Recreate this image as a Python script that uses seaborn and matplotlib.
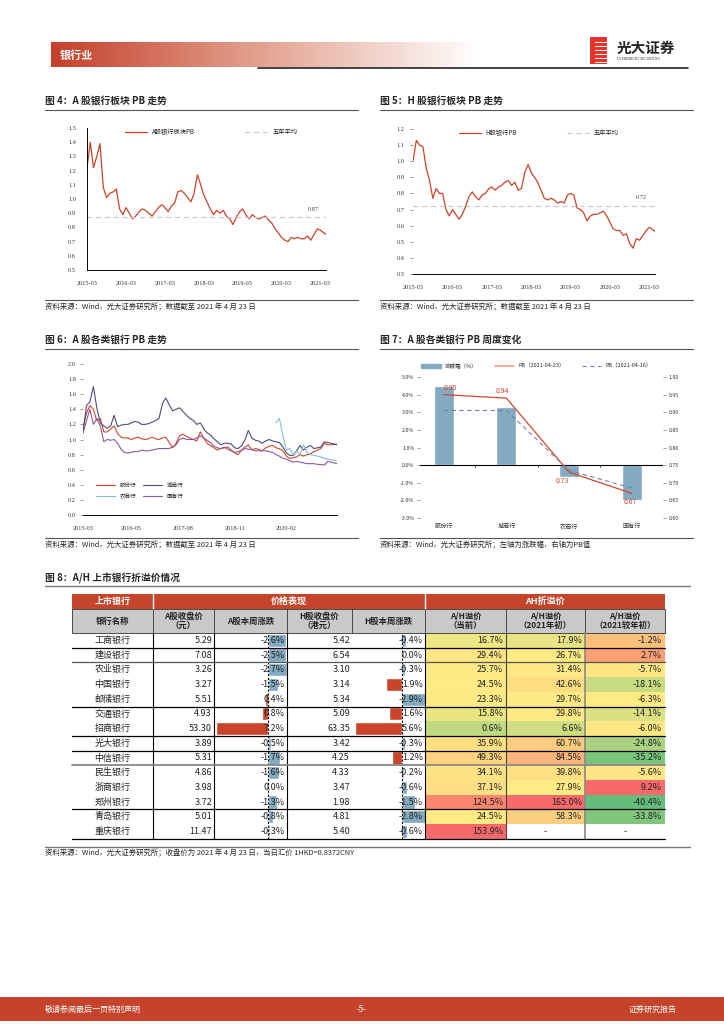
import numpy as np
import pandas as pd
import matplotlib
matplotlib.use('Agg')
import matplotlib.pyplot as plt
import matplotlib.colors as mcolors
import matplotlib.patches as mpatches
from matplotlib.lines import Line2D
from matplotlib.ticker import FormatStrFormatter
import seaborn as sns

W, H = 724, 1024

# ---------------- data ----------------
# monthly readings, last point = 2021-04-23
dates = list(pd.date_range('2015-03-01', '2021-03-01', freq='MS')) + [pd.Timestamp('2021-04-23')]

a_bank_pb = [1.22, 1.40, 1.22, 1.30, 1.39, 1.08, 1.01, 1.04, 1.05, 1.07,
             0.93, 0.89, 0.94, 0.90, 0.86, 0.88, 0.91, 0.93, 0.92, 0.90,
             0.88, 0.91, 0.94, 0.96, 0.94, 0.91, 0.95, 0.97, 1.05, 1.06,
             1.04, 1.01, 0.98, 1.04, 1.17, 1.10, 1.03, 0.98, 0.93, 0.89,
             0.92, 0.90, 0.92, 0.88, 0.86, 0.82, 0.87, 0.91, 0.93, 0.89,
             0.86, 0.89, 0.87, 0.86, 0.87, 0.88, 0.85, 0.83, 0.79, 0.76,
             0.73, 0.71, 0.70, 0.73, 0.72, 0.73, 0.72, 0.72, 0.74, 0.71,
             0.75, 0.79, 0.78, 0.75]
a_bank_avg = 0.87

h_bank_pb = [1.00, 1.13, 1.10, 1.09, 0.96, 0.88, 0.77, 0.83, 0.80, 0.80,
             0.70, 0.66, 0.70, 0.67, 0.64, 0.67, 0.72, 0.78, 0.81, 0.78,
             0.76, 0.79, 0.80, 0.83, 0.84, 0.82, 0.84, 0.85, 0.87, 0.88,
             0.85, 0.87, 0.82, 0.83, 0.93, 0.98, 0.93, 0.90, 0.87, 0.82,
             0.77, 0.76, 0.77, 0.76, 0.74, 0.75, 0.74, 0.79, 0.80, 0.79,
             0.71, 0.70, 0.68, 0.63, 0.66, 0.67, 0.67, 0.68, 0.69, 0.66,
             0.62, 0.58, 0.57, 0.57, 0.54, 0.55, 0.49, 0.46, 0.52, 0.51,
             0.54, 0.57, 0.59, 0.565]
h_bank_avg = 0.72

joint_pb = [1.15, 1.35, 1.45, 1.40, 1.25, 1.28, 1.10, 1.10, 1.14, 1.18,
            1.08, 1.03, 1.02, 1.02, 1.00, 1.02, 1.03, 1.01, 1.00, 1.01,
            1.03, 1.01, 1.00, 1.02, 1.03, 0.96, 0.89, 0.95, 1.05, 1.07,
            1.04, 1.02, 1.00, 0.98, 1.10, 1.02, 0.95, 0.92, 0.89, 0.86,
            0.88, 0.89, 0.90, 0.86, 0.82, 0.80, 0.86, 0.90, 0.93, 0.86,
            0.88, 0.87, 0.85, 0.89, 0.91, 0.92, 0.89, 0.88, 0.85, 0.78,
            0.75, 0.76, 0.77, 0.80, 0.78, 0.80, 0.81, 0.84, 0.86, 0.88,
            0.95, 0.93, 0.93, 0.94]
city_pb = [1.10, 1.45, 1.50, 1.70, 1.42, 1.22, 1.18, 1.15, 1.18, 1.32,
           1.17, 1.19, 1.20, 1.20, 1.22, 1.24, 1.23, 1.20, 1.20, 1.21,
           1.23, 1.25, 1.28, 1.48, 1.55, 1.46, 1.38, 1.40, 1.42, 1.37,
           1.32, 1.28, 1.25, 1.20, 1.22, 1.14, 1.09, 1.06, 1.01, 0.97,
           0.93, 0.95, 0.95, 0.94, 0.89, 0.88, 0.92, 1.00, 1.12, 1.02,
           0.99, 0.98, 0.95, 0.98, 1.00, 0.98, 0.97, 0.96, 0.90, 0.82,
           0.79, 0.79, 0.85, 0.92, 0.86, 0.90, 0.92, 0.88, 0.89, 0.90,
           0.97, 0.96, 0.95, 0.93]
rural_pb = [1.22, 1.28, 1.05, 0.86, 0.88, 0.80, 0.84, 0.80, 0.93, 0.83,
            0.80, 0.79, 0.78, 0.77, 0.75, 0.74, 0.73, 0.72]  # from 2019-11
state_pb = [1.08, 1.25, 1.40, 1.20, 1.28, 1.18, 0.97, 1.00, 0.99, 1.00,
            0.95, 0.87, 0.83, 0.82, 0.83, 0.84, 0.84, 0.86, 0.85, 0.85,
            0.86, 0.87, 0.88, 0.88, 0.88, 0.88, 0.90, 0.93, 1.00, 1.02,
            1.00, 1.00, 1.00, 1.02, 1.05, 1.02, 0.99, 0.96, 0.91, 0.89,
            0.88, 0.90, 0.87, 0.85, 0.83, 0.84, 0.86, 0.88, 0.87, 0.87,
            0.85, 0.85, 0.85, 0.85, 0.84, 0.83, 0.80, 0.78, 0.75, 0.74,
            0.72, 0.70, 0.71, 0.70, 0.69, 0.68, 0.68, 0.68, 0.67, 0.67,
            0.66, 0.71, 0.70, 0.68]
fig6_ticks = ['2015-03', '2016-05', '2017-08', '2018-11', '2020-02']

cats7 = ['股份行', '城商行', '农商行', '国有行']
chg7 = [4.5, 3.3, -0.7, -2.0]
pb_now7 = [0.95, 0.94, 0.73, 0.67]
pb_prev7 = [0.905, 0.905, 0.735, 0.685]

banks = ['工商银行', '建设银行', '农业银行', '中国银行', '邮储银行', '交通银行', '招商银行',
         '光大银行', '中信银行', '民生银行', '浙商银行', '郑州银行', '青岛银行', '重庆银行']
a_close = [5.29, 7.08, 3.26, 3.27, 5.51, 4.93, 53.30, 3.89, 5.31, 4.86, 3.98, 3.72, 5.01, 11.47]
a_chg = [-2.6, -2.5, -2.7, -1.5, 0.4, 0.8, 7.2, -0.5, -1.7, -1.6, 0.0, -1.3, -0.8, -0.3]
h_close = [5.42, 6.54, 3.10, 3.14, 5.34, 5.09, 63.35, 3.42, 4.25, 4.33, 3.47, 1.98, 4.81, 5.40]
h_chg = [-0.4, 0.0, -0.3, 1.9, -2.9, 1.6, 5.6, -0.3, 1.2, -0.2, -0.6, -1.5, -2.8, -0.6]
ah_now = [16.7, 29.4, 25.7, 24.5, 23.3, 15.8, 0.6, 35.9, 49.3, 34.1, 37.1, 124.5, 24.5, 153.9]
ah_start = [17.9, 26.7, 31.4, 42.6, 29.7, 29.8, 6.6, 60.7, 84.5, 39.8, 27.9, 165.0, 58.3, np.nan]
ah_diff = [-1.2, 2.7, -5.7, -18.1, -6.3, -14.1, -6.0, -24.8, -35.2, -5.6, 9.2, -40.4, -33.8, np.nan]

# ---------------- style ----------------
sns.set_theme(style='white')
plt.rcParams['font.family'] = ['Noto Sans CJK SC', 'DejaVu Sans']
plt.rcParams['axes.unicode_minus'] = False

RED = '#C8452B'
BLUE = '#82AAC0'
SERIF = 'Liberation Serif'

fig = plt.figure(figsize=(W / 100, H / 100), dpi=100)
fig.patch.set_facecolor('white')


def rect(x0, y0, x1, y1):
    return [x0 / W, 1 - y1 / H, (x1 - x0) / W, (y1 - y0) / H]


def ftext(x, y, s, **kw):
    kw.setdefault('va', 'center')
    fig.text(x / W, 1 - y / H, s, **kw)


def hline(x0, x1, y, color='#555555', lw=0.8):
    fig.add_artist(Line2D([x0 / W, x1 / W], [1 - y / H, 1 - y / H], color=color, lw=lw))


def section(x0, x1, y_title, y_src, title, src):
    ftext(x0, y_title, title, fontsize=7, fontweight='bold')
    hline(x0, x1, y_title + 9)
    hline(x0, x1, y_src)
    ftext(x0, y_src + 7, src, fontsize=5.3)


# ---------------- header / footer ----------------
axg = fig.add_axes(rect(51, 42, 480, 67))
grad_cmap = mcolors.LinearSegmentedColormap.from_list('g', ['#C4402A', '#E4A493', '#FFFFFF'])
axg.imshow(np.linspace(0, 1, 256).reshape(1, -1), aspect='auto', cmap=grad_cmap)
axg.axis('off')
ftext(60, 55, '银行业', fontsize=8, fontweight='bold', color='white')
hline(258, 688, 68, color='#222222', lw=1.2)

fig.add_artist(mpatches.Rectangle((590 / W, 1 - 64 / H), 17 / W, 27 / H, color='#E2342A', lw=0))
for yy in [42, 46, 50, 54, 58, 62]:
    hline(595, 607, yy, color='white', lw=0.7)
ftext(617, 48, '光大证券', fontsize=10.5, fontweight='bold', color='#222222')
ftext(617, 59, 'EVERBRIGHT SECURITIES', fontsize=2.6, color='#333333', family=SERIF)

fig.add_artist(mpatches.Rectangle((0, 3 / H), 1, 24 / H, color='#C5432A', lw=0))
ftext(45, 1009, '敬请参阅最后一页特别声明', fontsize=5.8, color='white')
ftext(362, 1009, '-5-', fontsize=5.8, color='white', ha='center')
ftext(677, 1009, '证券研究报告', fontsize=5.8, color='white', ha='right')

SRC = '资料来源：Wind，光大证券研究所；数据截至 2021 年 4 月 23 日'
section(45, 358, 101, 300, '图 4：A 股银行板块 PB 走势', SRC)
section(380, 693, 101, 300, '图 5：H 股银行板块 PB 走势', SRC)
section(45, 358, 340, 538, '图 6：A 股各类银行 PB 走势', SRC)
section(380, 693, 340, 538, '图 7：A 股各类银行 PB 周度变化',
        '资料来源：Wind，光大证券研究所；左轴为涨跌幅，右轴为PB值')

yr_ticks = pd.date_range('2015-03-01', '2021-03-01', freq='12MS')


def pb_panel(box, values, avg, label, left_spine):
    ax = fig.add_axes(rect(*box))
    sns.lineplot(x=dates, y=values, ax=ax, color=RED, lw=0.9, label=label)
    ax.axhline(avg, color='#C9C9C9', lw=0.9, ls=(0, (4, 3)), label='五年平均')
    ax.text(pd.Timestamp('2020-12-20'), avg + 0.045, f'{avg:.2f}', fontsize=4.5,
            ha='center', family=SERIF, color='#444444')
    ax.set_xlim(dates[0], dates[-1])
    ax.set_xticks(yr_ticks)
    ax.set_xticklabels([d.strftime('%Y-%m') for d in yr_ticks])
    ax.yaxis.set_major_formatter(FormatStrFormatter('%.1f'))
    ax.set_xlabel('')
    ax.set_ylabel('')
    for s in ['top', 'right']:
        ax.spines[s].set_visible(False)
    ax.spines['bottom'].set_color('black')
    ax.spines['bottom'].set_linewidth(0.7)
    if left_spine:
        ax.spines['left'].set_color('black')
        ax.spines['left'].set_linewidth(0.7)
        ax.tick_params(axis='y', pad=2)
    else:
        ax.spines['left'].set_visible(False)
        ax.tick_params(axis='y', left=True, length=2, width=0.5, color='#777777', pad=4)
    ax.tick_params(labelsize=4.5, labelfontfamily=SERIF, labelcolor='#333333')
    ax.tick_params(axis='x', pad=2)
    ax.legend(loc='upper center', bbox_to_anchor=(0.52, 1.04), ncol=2, frameon=False,
              fontsize=4.5, handlelength=3.5, columnspacing=8)
    return ax


ax4 = pb_panel((87, 128, 326, 270), a_bank_pb, a_bank_avg, 'A股银行板块PB', True)
ax4.set_ylim(0.5, 1.5)
ax4.set_yticks(np.arange(0.5, 1.51, 0.1))

ax5 = pb_panel((413, 129, 655, 274), h_bank_pb, h_bank_avg, 'H股银行PB', False)
ax5.set_ylim(0.3, 1.2)
ax5.set_yticks(np.arange(0.3, 1.21, 0.1))

# ---------------- figure 6 ----------------
df6 = pd.concat([
    pd.DataFrame({'date': dates, 'pb': joint_pb, 'type': '股份行'}),
    pd.DataFrame({'date': dates, 'pb': city_pb, 'type': '城商行'}),
    pd.DataFrame({'date': dates[56:], 'pb': rural_pb, 'type': '农商行'}),
    pd.DataFrame({'date': dates, 'pb': state_pb, 'type': '国有行'}),
])
pal6 = {'股份行': '#D0472B', '城商行': '#4F4B7C', '农商行': '#86BCD3', '国有行': '#8C5A9C'}
ax6 = fig.add_axes(rect(83, 364, 337, 515))
sns.lineplot(data=df6, x='date', y='pb', hue='type', palette=pal6, estimator=None,
             lw=0.8, ax=ax6, hue_order=['股份行', '城商行', '农商行', '国有行'])
ax6.set_xlim(dates[0], dates[-1])
ax6.set_ylim(0, 2.0)
ax6.set_yticks(np.arange(0, 2.01, 0.2))
ax6.yaxis.set_major_formatter(FormatStrFormatter('%.1f'))
t6 = pd.to_datetime(fig6_ticks)
ax6.set_xticks(t6)
ax6.set_xticklabels(fig6_ticks)
ax6.set_xlabel('')
ax6.set_ylabel('')
for s in ['top', 'right', 'left']:
    ax6.spines[s].set_visible(False)
ax6.spines['bottom'].set_color('black')
ax6.spines['bottom'].set_linewidth(0.7)
ax6.tick_params(axis='y', left=True, length=2, width=0.5, color='#777777', pad=3)
ax6.tick_params(labelsize=4.5, labelfontfamily=SERIF, labelcolor='#333333')
ax6.tick_params(axis='x', pad=2)
hd, lb = ax6.get_legend_handles_labels()
order = [0, 2, 1, 3]
ax6.legend([hd[i] for i in order], [lb[i] for i in order], ncol=2, frameon=False,
           loc='lower left', bbox_to_anchor=(0.03, 0.07), fontsize=4, handlelength=3.5,
           columnspacing=1.2, labelspacing=1.0)

# ---------------- figure 7 ----------------
ax7 = fig.add_axes(rect(420, 377, 663, 518))
sns.barplot(x=cats7, y=chg7, ax=ax7, color=BLUE, width=0.32, saturation=1)
ax7.set_xlim(-0.38, 3.5)
ax7.set_ylim(-3, 5)
ax7.set_yticks(np.arange(-3, 5.1, 1))
ax7.set_yticklabels([f'{v:.1f}%' for v in np.arange(-3, 5.1, 1)])
ax7.axhline(0, color='black', lw=0.8)
ax7.vlines([0.5, 1.5, 2.5, 3.5], -0.12, 0, color='black', lw=0.6)
for s in ax7.spines.values():
    s.set_visible(False)
ax7.tick_params(axis='y', left=True, length=2, width=0.5, color='#777777', pad=2,
                labelsize=3.8, labelcolor='#333333')
ax7.tick_params(axis='x', length=0, pad=3, labelsize=4.4, labelcolor='#333333')
ax7.set_xlabel('')
ax7.set_ylabel('')

ax7b = ax7.twinx()
xs7 = np.arange(len(cats7))
ax7b.plot(xs7, pb_now7, color='#D0472B', lw=0.9)
ax7b.plot(xs7, pb_prev7, color='#7C7CA8', lw=0.8, ls=(0, (4, 3)))
ax7b.set_ylim(0.60, 1.00)
ax7b.set_yticks(np.arange(0.60, 1.001, 0.05))
ax7b.yaxis.set_major_formatter(FormatStrFormatter('%.2f'))
for s in ax7b.spines.values():
    s.set_visible(False)
ax7b.tick_params(axis='y', right=True, length=2, width=0.5, color='#777777', pad=2,
                 labelsize=3.8, labelcolor='#333333')
ax7b.grid(False)
offs = [(5, 5), (-3, 5), (-5, -6), (-1, -6)]
for x, v, (dx, dy) in zip(xs7, pb_now7, offs):
    ax7b.annotate(f'{v:.2f}', (x, v), xytext=(dx, dy), textcoords='offset points',
                  ha='center', va='center', fontsize=5, color='#D0472B')
h7 = [mpatches.Patch(color=BLUE), Line2D([], [], color='#E8A08C', lw=1.2),
      Line2D([], [], color='#7C7CA8', lw=0.8, ls=(0, (4, 3)))]
ax7.legend(h7, ['涨跌幅（%）', 'PB（2021-04-23）', 'PB（2021-04-16）'], ncol=3, frameon=False,
           loc='center', bbox_to_anchor=(0.48, 1.08), fontsize=4, handlelength=3.5,
           columnspacing=3)

# ---------------- figure 8 : table ----------------
ftext(45, 578, '图 8：A/H 上市银行折溢价情况', fontsize=7, fontweight='bold')
hline(45, 690, 586, color='#777777', lw=1)
hline(45, 690, 847, color='#777777', lw=1)
ftext(45, 853, '资料来源：Wind，光大证券研究所；收盘价为 2021 年 4 月 23 日，当日汇价 1HKD=0.8372CNY',
      fontsize=5.3)

cols = [72, 153, 214, 287, 352, 425, 506, 585, 665]
top_y, head_y, body_y = 594, 609, 633
row_h = 14.7
n = len(banks)
bot_y = body_y + n * row_h


def bar_col(x0, x1, values, lim):
    ax = fig.add_axes(rect(x0, body_y, x1, bot_y))
    sign = ['up' if v > 0 else 'down' for v in values]
    sns.barplot(x=values, y=banks, hue=sign, palette={'up': '#C9442A', 'down': BLUE},
                orient='h', dodge=False, width=0.9, saturation=1, legend=False, ax=ax)
    ax.set_xlim(*lim)
    ax.axvline(0, color='black', lw=0.8, ls=(0, (2, 1.5)))
    ax.axis('off')


bar_col(cols[2], cols[3], a_chg, (7.5, -2.7))
bar_col(cols[4], cols[5], h_chg, (6.0, -2.7))

ah_cmap = mcolors.LinearSegmentedColormap.from_list('ah', ['#63BE7B', '#FFEB84', '#F8696B'])
norms = [mcolors.TwoSlopeNorm(vmin=-35, vcenter=24, vmax=153.9),
         mcolors.TwoSlopeNorm(vmin=-43, vcenter=28, vmax=165.0),
         mcolors.TwoSlopeNorm(vmin=-40.4, vcenter=-6.3, vmax=9.2)]
for j, (vals, nm) in enumerate(zip([ah_now, ah_start, ah_diff], norms)):
    axh = fig.add_axes(rect(cols[5 + j], body_y, cols[6 + j], bot_y))
    sns.heatmap(np.array(vals, dtype=float).reshape(-1, 1), ax=axh, cmap=ah_cmap, norm=nm,
                cbar=False, xticklabels=False, yticklabels=False)
    axh.axis('off')

tab = fig.add_axes([0, 0, 1, 1])
tab.set_xlim(0, W)
tab.set_ylim(H, 0)
tab.axis('off')

tab.add_patch(mpatches.Rectangle((cols[0], top_y), cols[-1] - cols[0], head_y - top_y,
                                 color='#C5452A', lw=0))
tab.add_patch(mpatches.Rectangle((cols[0], head_y), cols[-1] - cols[0], body_y - head_y,
                                 facecolor='#C9C9C9', edgecolor='#333333', lw=0.6))
for xb in [cols[1], cols[5]]:
    tab.plot([xb, xb], [top_y, head_y], color='white', lw=1)
groups = [('上市银行', cols[0], cols[1]), ('价格表现', cols[1], cols[5]), ('AH折溢价', cols[5], cols[8])]
for name, a, b in groups:
    tab.text((a + b) / 2, (top_y + head_y) / 2, name, ha='center', va='center',
             fontsize=6.5, fontweight='bold', color='white')
heads = ['银行名称', 'A股收盘价\n（元）', 'A股本周涨跌', 'H股收盘价\n（港元）', 'H股本周涨跌',
         'A/H溢价\n（当前）', 'A/H溢价\n（2021年初）', 'A/H溢价\n（2021较年初）']
for k, txt in enumerate(heads):
    tab.text((cols[k] + cols[k + 1]) / 2, (head_y + body_y) / 2, txt, ha='center', va='center',
             fontsize=6, fontweight='bold', color='#222222', linespacing=1.05)
for xb in cols[1:-1]:
    tab.plot([xb, xb], [head_y, body_y], color='#333333', lw=0.6)
for xb, c in [(cols[1], 'black'), (cols[2], 'black'), (cols[3], 'black'),
              (cols[5], 'black'), (cols[6], '#444444'), (cols[7], '#888888')]:
    tab.plot([xb, xb], [body_y, bot_y], color=c, lw=0.8 if c != '#888888' else 1.2)

sep = {0: 'black', 1: '#555555', 4: 'black', 6: 'black', 7: 'black', 8: '#888888',
       11: 'black', 13: 'black'}
for i, c in sep.items():
    yb = body_y + (i + 1) * row_h
    tab.plot([cols[0], cols[-1]], [yb, yb], color=c, lw=0.9 if c != '#888888' else 1.3)

fs = 6.5
for i in range(n):
    yc = body_y + (i + 0.5) * row_h
    tab.text((cols[0] + cols[1]) / 2, yc, banks[i], ha='center', va='center', fontsize=fs,
             color='#222222')
    tab.text(cols[2] - 2, yc, f'{a_close[i]:.2f}', ha='right', va='center', fontsize=fs,
             color='#222222')
    tab.text(cols[3] - 2, yc, f'{a_chg[i]:.1f}%', ha='right', va='center', fontsize=fs,
             color='#222222')
    tab.text(cols[4] - 2, yc, f'{h_close[i]:.2f}', ha='right', va='center', fontsize=fs,
             color='#222222')
    tab.text(cols[5] - 2, yc, f'{h_chg[i]:.1f}%', ha='right', va='center', fontsize=fs,
             color='#222222')
    for j, vals in enumerate([ah_now, ah_start, ah_diff]):
        v = vals[i]
        if np.isnan(v):
            tab.text((cols[5 + j] + cols[6 + j]) / 2, yc, '-', ha='center', va='center',
                     fontsize=fs, color='#222222')
        else:
            tab.text(cols[6 + j] - 3, yc, f'{v:.1f}%', ha='right', va='center', fontsize=fs,
                     color='#222222')

fig.savefig('out.png', dpi=100, facecolor='white')
